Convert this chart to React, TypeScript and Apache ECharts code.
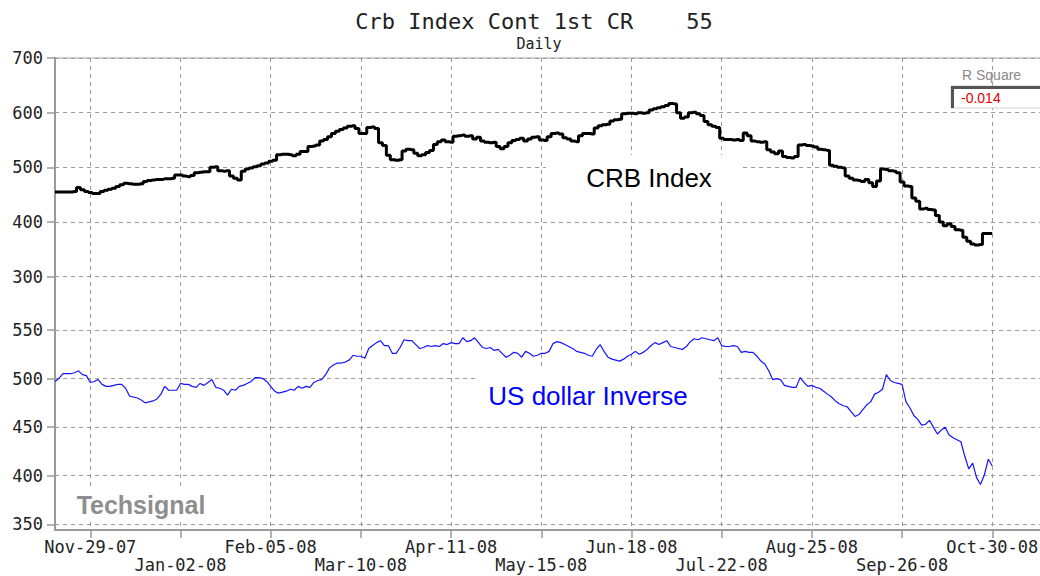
import React, { useEffect, useRef } from 'react';
import * as echarts from 'echarts';

const TICK_LABELS = [
  'Nov-29-07', 'Jan-02-08', 'Feb-05-08', 'Mar-10-08', 'Apr-11-08', 'May-15-08',
  'Jun-18-08', 'Jul-22-08', 'Aug-25-08', 'Sep-26-08', 'Oct-30-08',
];
const TICK_START = 9; // trading-day slot of the first labelled date
const TICK_STEP = 23; // trading days between labelled dates
const SLOT_COUNT = 256; // trading-day slots on the axis

const CRB_INDEX = [
  455, 455, 455, 455, 455, 456, 463, 459, 456, 454, 452, 452,
  456, 458, 460, 462, 465, 468, 471, 470, 469, 469, 470,
  474, 476, 477, 478, 478, 479, 479, 480, 486, 486, 484, 483, 485,
  490, 491, 492, 492, 500, 501, 494, 493, 494, 484, 480, 477,
  493, 497, 499, 501, 503, 506, 508, 511, 513,
  523, 524, 524, 523, 521, 524, 529, 529, 538, 539, 541, 548, 551, 556,
  562, 566, 569, 572, 575, 576, 571, 562, 562, 573, 574, 571, 545, 540,
  522, 514, 513, 514, 530, 533, 532, 526, 521, 523, 527, 531, 542, 547, 550,
  547, 546, 557, 558, 559, 557, 558, 552, 555, 548, 546, 545, 546,
  538, 534, 538, 545, 549, 551, 553, 548, 552, 555, 556, 550, 549, 556,
  562, 563, 561, 554, 552, 548, 547, 558, 562, 562, 561, 572, 576, 578, 579,
  585, 587, 588, 598, 599, 599, 598, 600, 599, 600, 605, 607, 609, 611, 613,
  617, 616, 600, 590, 592, 600, 601, 598, 595, 584, 578, 575, 573,
  553, 551, 551, 550, 551, 549, 563, 558, 548, 547, 546, 547,
  532, 528, 525, 530, 520, 518, 517, 520, 541, 542, 540, 539, 537,
  533, 532, 531, 504, 502, 500, 499, 484, 480, 477, 476, 474,
  478, 472, 465, 475, 497, 496, 494, 493, 490, 473, 466, 465, 444, 438,
  424, 425, 423, 422, 412, 400, 393, 397, 392, 386, 385,
  372, 365, 360, 358, 359, 379, 379, 379,
];

const USD_INVERSE = [
  497, 500, 505, 505, 505, 506, 508, 504, 503, 496, 497, 499, 494, 492, 492, 493,
  494, 494, 490, 482, 481, 480, 478, 475, 476, 477, 479, 484, 492, 488, 488, 488,
  495, 494, 494, 492, 491, 495, 493, 496, 499, 491, 490, 488, 483, 489, 488, 492,
  493, 495, 497, 501, 501, 500, 497, 492, 487, 485, 486, 487, 489, 488, 492, 490,
  492, 491, 496, 498, 499, 504, 511, 514, 516, 516, 517, 519, 524, 523, 523, 521,
  531, 534, 537, 539, 534, 534, 526, 526, 532, 540, 539, 539, 535, 531, 532, 534,
  533, 534, 533, 536, 535, 537, 536, 536, 542, 538, 539, 542, 537, 532, 531, 532,
  529, 530, 526, 522, 524, 527, 526, 522, 528, 526, 523, 524, 526, 526, 528, 536,
  538, 537, 535, 533, 531, 528, 527, 526, 524, 523, 530, 535, 528, 522, 520, 519,
  518, 520, 523, 525, 528, 525, 527, 530, 534, 537, 535, 537, 539, 533, 532, 531,
  530, 533, 538, 541, 540, 542, 541, 540, 539, 542, 534, 533, 533, 534, 533, 527,
  528, 527, 527, 523, 518, 515, 508, 499, 500, 499, 493, 492, 491, 491, 501, 496,
  492, 493, 491, 490, 487, 484, 481, 477, 474, 472, 471, 466, 461, 463, 468, 473,
  476, 484, 486, 489, 504, 498, 496, 495, 494, 476, 470, 462, 458, 452, 453, 457,
  450, 443, 447, 450, 442, 439, 437, 435, 420, 407, 413, 398, 391, 401, 417, 410,
];

const CATEGORIES = Array.from({ length: SLOT_COUNT }, (_, i) => String(i));

const tickNo = (i: number) => (i - TICK_START) / TICK_STEP;
const isTickSlot = (i: number) =>
  i >= TICK_START &&
  (i - TICK_START) % TICK_STEP === 0 &&
  tickNo(i) < TICK_LABELS.length;

const MONO = '"DejaVu Sans Mono", monospace';
const SANS = '"Liberation Sans", Arial, sans-serif';
const GRID_GRAY = '#9a9a9a';

export default function App() {
  const ref = useRef<HTMLDivElement>(null);

  useEffect(() => {
    if (!ref.current) return;
    const chart = echarts.init(ref.current, undefined, { renderer: 'svg' });

    const hiddenX = (gridIndex: number) => ({
      type: 'category',
      gridIndex,
      data: CATEGORIES,
      boundaryGap: false,
      show: false,
    });

    const labelStyle = {
      fontFamily: MONO,
      fontSize: 17,
      color: '#222',
      showMinLabel: true,
      showMaxLabel: true,
      hideOverlap: false,
      formatter: (_v: string, i: number) => TICK_LABELS[tickNo(i)] ?? '',
    };

    const option: any = {
      animation: false,
      backgroundColor: '#ffffff',
      grid: [
        { left: 55, top: 58, width: 1000, height: 472, show: true, borderColor: '#a8a8a8', borderWidth: 1, backgroundColor: 'transparent', outerBoundsMode: 'none', containLabel: false },
        { left: 55, top: 58, width: 1000, height: 218.7, outerBoundsMode: 'none', containLabel: false },
        { left: 55, top: 330, width: 1000, height: 194.3, outerBoundsMode: 'none', containLabel: false },
      ],
      xAxis: [
        {
          type: 'category',
          gridIndex: 0,
          position: 'bottom',
          data: CATEGORIES,
          boundaryGap: false,
          axisLine: { show: true, lineStyle: { color: GRID_GRAY, width: 2 } },
          axisTick: { show: true, interval: (i: number) => isTickSlot(i), length: 8, lineStyle: { color: GRID_GRAY, width: 1.5 } },
          axisLabel: {
            ...labelStyle,
            interval: (i: number) => isTickSlot(i) && tickNo(i) % 2 === 0,
            margin: 8,
          },
          splitLine: { show: true, interval: (i: number) => isTickSlot(i), lineStyle: { color: GRID_GRAY, type: [4, 4], width: 1 } },
        },
        hiddenX(1),
        hiddenX(2),
        {
          type: 'category',
          gridIndex: 0,
          position: 'bottom',
          data: CATEGORIES,
          boundaryGap: false,
          axisLine: { show: false },
          axisTick: { show: false },
          splitLine: { show: false },
          axisLabel: {
            ...labelStyle,
            interval: (i: number) => isTickSlot(i) && tickNo(i) % 2 === 1,
            margin: 26,
          },
        },
      ],
      yAxis: [
        {
          type: 'value', gridIndex: 0, min: 0, max: 1,
          axisLine: { show: true, lineStyle: { color: GRID_GRAY, width: 2 } },
          axisTick: { show: false }, axisLabel: { show: false }, splitLine: { show: false },
        },
        {
          type: 'value', gridIndex: 1, min: 300, max: 700, interval: 100,
          axisLine: { show: false },
          axisTick: { show: true, length: 8, lineStyle: { color: GRID_GRAY, width: 1.5 } },
          axisLabel: { margin: 12, fontFamily: MONO, fontSize: 17, color: '#222', showMinLabel: true, showMaxLabel: true },
          splitLine: { show: true, lineStyle: { color: GRID_GRAY, type: [4, 4], width: 1 } },
        },
        {
          type: 'value', gridIndex: 2, min: 350, max: 550, interval: 50,
          axisLine: { show: false },
          axisTick: { show: true, length: 8, lineStyle: { color: GRID_GRAY, width: 1.5 } },
          axisLabel: { margin: 12, fontFamily: MONO, fontSize: 17, color: '#222', showMinLabel: true, showMaxLabel: true },
          splitLine: { show: true, lineStyle: { color: GRID_GRAY, type: [4, 4], width: 1 } },
        },
        {
          type: 'value', gridIndex: 1, min: 300, max: 700, interval: 100,
          axisLine: { show: false }, axisLabel: { show: false }, splitLine: { show: false },
          axisTick: { show: false, inside: true },
          minorTick: { show: true, splitNumber: 2, length: 8, lineStyle: { color: '#d6d6d6' } },
        },
        {
          type: 'value', gridIndex: 2, min: 350, max: 550, interval: 50,
          axisLine: { show: false }, axisLabel: { show: false }, splitLine: { show: false },
          axisTick: { show: false, inside: true },
          minorTick: { show: true, splitNumber: 5, length: 8, lineStyle: { color: '#d6d6d6' } },
        },
      ],
      series: [
        {
          name: 'CRB Index',
          type: 'line',
          xAxisIndex: 1,
          yAxisIndex: 1,
          data: CRB_INDEX,
          step: 'middle',
          showSymbol: false,
          symbol: 'none',
          lineStyle: { color: '#000000', width: 3 },
          z: 5,
        },
        {
          name: 'US dollar Inverse',
          type: 'line',
          xAxisIndex: 2,
          yAxisIndex: 2,
          data: USD_INVERSE,
          showSymbol: false,
          symbol: 'none',
          lineStyle: { color: '#1414ff', width: 1.2 },
          z: 5,
        },
      ],
      graphic: [
        { type: 'text', x: 534, y: 21, z: 10, style: { text: 'Crb Index Cont 1st CR    55', font: `22px ${MONO}`, fill: '#222', align: 'center', verticalAlign: 'middle' } },
        { type: 'text', x: 539, y: 44, z: 10, style: { text: 'Daily', font: `15px ${MONO}`, fill: '#222', align: 'center', verticalAlign: 'middle' } },
        { type: 'rect', z: 1, shape: { x: 546, y: 155, width: 196, height: 45 }, style: { fill: '#ffffff' } },
        { type: 'text', x: 649, y: 178, z: 10, style: { text: 'CRB Index', font: `26px ${SANS}`, fill: '#000000', align: 'center', verticalAlign: 'middle' } },
        { type: 'rect', z: 1, shape: { x: 477, y: 367, width: 240, height: 55 }, style: { fill: '#ffffff' } },
        { type: 'text', x: 588, y: 396, z: 10, style: { text: 'US dollar Inverse', font: `26px ${SANS}`, fill: '#0000ff', align: 'center', verticalAlign: 'middle' } },
        { type: 'rect', z: 1, shape: { x: 70, y: 486, width: 142, height: 34 }, style: { fill: '#ffffff' } },
        { type: 'text', x: 141, y: 505, z: 10, style: { text: 'Techsignal', font: `bold 25px ${SANS}`, fill: '#8e8e8e', align: 'center', verticalAlign: 'middle' } },
        { type: 'text', x: 962, y: 75, z: 10, style: { text: 'R Square', font: `14px ${SANS}`, fill: '#8a8a8a', align: 'left', verticalAlign: 'middle' } },
        { type: 'rect', z: 8, shape: { x: 951, y: 86, width: 100, height: 22 }, style: { fill: '#ffffff', stroke: '#d0d0d0', lineWidth: 1 } },
        { type: 'polyline', z: 9, shape: { points: [[952.5, 108], [952.5, 87.5], [1045, 87.5]] }, style: { stroke: '#555555', lineWidth: 3, fill: 'none' } },
        { type: 'text', x: 961, y: 98, z: 10, style: { text: '-0.014', font: `14px ${SANS}`, fill: '#e00000', align: 'left', verticalAlign: 'middle' } },
      ],
    };

    chart.setOption(option);
    return () => chart.dispose();
  }, []);

  return (
    <div
      ref={ref}
      style={{ position: 'fixed', left: 0, top: 0, width: 1040, height: 576, background: '#fff' }}
    />
  );
}
